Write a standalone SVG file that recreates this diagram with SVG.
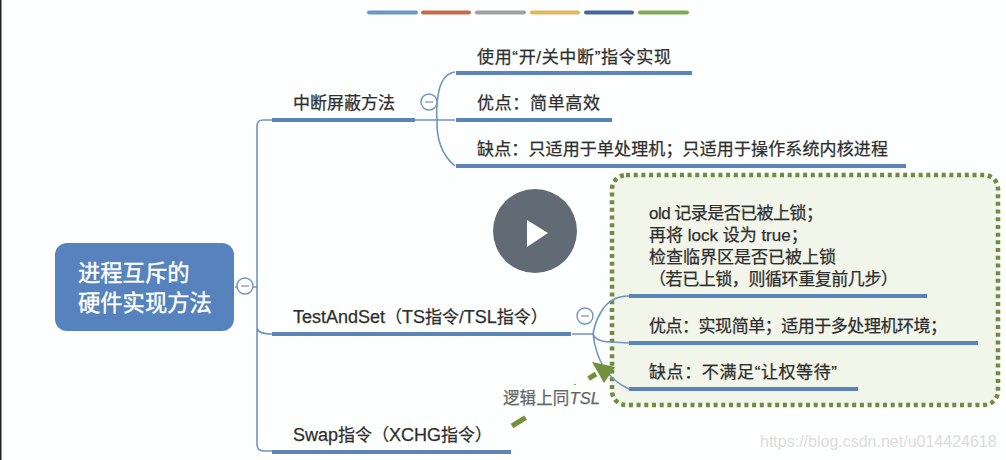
<svg xmlns="http://www.w3.org/2000/svg" width="1006" height="460" viewBox="0 0 1006 460">
<style>
text{font-family:"Liberation Sans","Noto Sans CJK SC",sans-serif;fill:#2e2e2e;font-size:17px;stroke:#2e2e2e;stroke-width:.25px}
.r{font-size:22.300px;fill:#fff;stroke:#fff;stroke-width:.4px}
.l{font-size:18px}
.b{fill:none;stroke:#5b84b9;stroke-width:4}
.c{fill:none;stroke:#7394c0;stroke-width:1.6}
.t{fill:#fff;stroke:#7394c0;stroke-width:1.4}
.m{fill:none;stroke:#8aa0bd;stroke-width:1.4}
.s{fill:none;stroke-width:4;stroke-linecap:round}
</style>
<rect width="1006" height="460" fill="#fdfefe"/>
<rect x="0" y="0" width="1.5" height="460" fill="#222"/>
<g id="palette">
<line class="s" x1="369" y1="12.500" x2="416" y2="12.500" stroke="#6b98bd"/>
<line class="s" x1="423" y1="12.500" x2="469" y2="12.500" stroke="#c56a4a"/>
<line class="s" x1="477" y1="12.500" x2="524" y2="12.500" stroke="#a0a0a0"/>
<line class="s" x1="532" y1="12.500" x2="578" y2="12.500" stroke="#e3b85a"/>
<line class="s" x1="586" y1="12.500" x2="632" y2="12.500" stroke="#45659f"/>
<line class="s" x1="640" y1="12.500" x2="687" y2="12.500" stroke="#7dab55"/>
</g>
<g id="note-box">
<rect x="612" y="175" width="386" height="230" rx="14" fill="#f1f5ea" stroke="#6f8c3f" stroke-width="4.500" stroke-dasharray="4 3.700"/>
</g>
<g id="connectors">
<path class="c" d="M235 287H257M272 120H263Q257 120 257 126V444Q257 451 264 451H272M257 328Q258 334 272 334"/>
<path class="c" d="M415 120H437M455 72Q441 74 438 96Q436 110 437 120Q436 150 455 166M437 120H455"/>
<path class="c" d="M572 334H593M629 296Q610 296 601 312Q595 322 593 334Q596 342 612 342L629 343M593 334Q598 375 629 389"/>
<path fill="none" stroke="#73903d" stroke-width="5" stroke-dasharray="16 14" d="M512 426L596 374"/>
<polygon points="592,362 615,367 604,383" fill="#73903d"/>
</g>
<g id="root">
<rect x="55" y="243" width="179" height="88" rx="12" fill="#5682bd"/>
<text class="r" x="78" y="281">进程互斥的</text>
<text class="r" x="78" y="311">硬件实现方法</text>
</g>
<g id="toggle-root"><circle class="t" cx="245" cy="286" r="8"/><line class="m" x1="241" y1="286" x2="249" y2="286"/></g>
<g id="branch-interrupt">
<text x="293" y="109">中断屏蔽方法</text>
<line class="b" x1="272" y1="120" x2="415" y2="120"/>
<circle class="t" cx="429" cy="102" r="8"/><line class="m" x1="425" y1="102" x2="433" y2="102"/>
</g>
<g id="leaf-i1"><text x="477" y="63" textLength="194">使用“开/关中断”指令实现</text><line class="b" x1="456" y1="73" x2="692" y2="73"/></g>
<g id="leaf-i2"><text x="477" y="109" textLength="123">优点：简单高效</text><line class="b" x1="456" y1="120" x2="612" y2="120"/></g>
<g id="leaf-i3"><text x="477" y="155" textLength="411">缺点：只适用于单处理机；只适用于操作系统内核进程</text><line class="b" x1="456" y1="166" x2="906" y2="166"/></g>
<g id="branch-ts">
<text x="293" y="323"><tspan class="l">TestAndSet</tspan>（<tspan class="l">TS</tspan>指令/<tspan class="l">TSL</tspan>指令）</text>
<line class="b" x1="272" y1="334" x2="571" y2="334"/>
<circle class="t" cx="585" cy="316" r="8"/><line class="m" x1="581" y1="316" x2="589" y2="316"/>
</g>
<g id="leaf-t1">
<text x="649" y="219" textLength="174">old 记录是否已被上锁；</text>
<text x="649" y="241">再将 lock 设为 true；</text>
<text x="649" y="263">检查临界区是否已被上锁</text>
<text x="649" y="285" textLength="249">（若已上锁，则循环重复前几步）</text>
<line class="b" x1="629" y1="296" x2="927" y2="296"/>
</g>
<g id="leaf-t2"><text x="649" y="332" textLength="298">优点：实现简单；适用于多处理机环境；</text><line class="b" x1="629" y1="343" x2="978" y2="343"/></g>
<g id="leaf-t3"><text x="649" y="378" textLength="188">缺点：不满足“让权等待”</text><line class="b" x1="629" y1="389" x2="858" y2="389"/></g>
<g id="branch-swap">
<text x="293" y="441"><tspan class="l">Swap</tspan>指令（<tspan class="l">XCHG</tspan>指令）</text>
<line class="b" x1="272" y1="452" x2="511" y2="452"/>
</g>
<g id="link-label"><rect x="500" y="385" width="102" height="30" fill="#fdfefe"/><text x="503" y="404" textLength="97" style="font-size:16.500px;fill:#666;stroke:#666">逻辑上同<tspan font-style="italic">TSL</tspan></text></g>
<g id="play">
<circle cx="535" cy="231" r="42" fill="#626a75"/>
<polygon points="527,220 548,233 527,247" fill="#fff"/>
</g>
<g id="watermark"><text x="760" y="447" style="font-size:16px;fill:#dcdcdc;stroke:none">https://blog.csdn.net/u014424618</text></g>
</svg>
